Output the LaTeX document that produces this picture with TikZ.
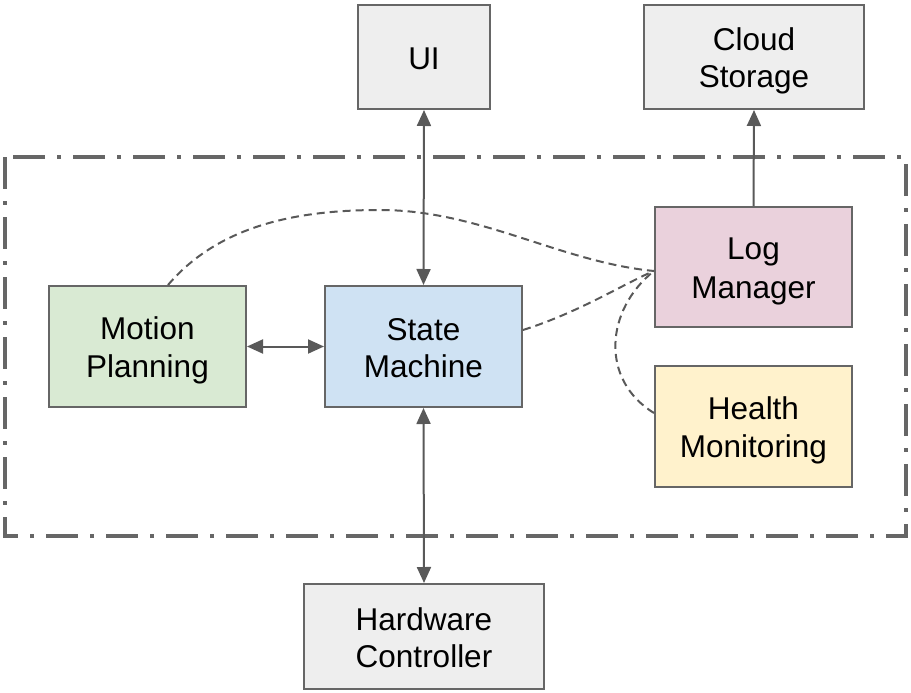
\documentclass[tikz,border=0pt]{standalone}
\usepackage{fontspec}
\setmainfont{Liberation Sans}
\usetikzlibrary{arrows.meta,calc}
\definecolor{bordc}{HTML}{666666}
\definecolor{linec}{HTML}{595959}
\definecolor{grayf}{HTML}{EEEEEE}
\definecolor{greenf}{HTML}{D9EAD3}
\definecolor{bluef}{HTML}{CFE2F3}
\definecolor{pinkf}{HTML}{EAD1DC}
\definecolor{yellowf}{HTML}{FFF2CC}
\newcommand{\bxs}{\rule[-6.5pt]{0pt}{37.5pt}}
\tikzset{
  box/.style={draw=bordc, line width=2pt, align=center, inner sep=0pt,
    font=\fontsize{31.5}{37.5}\selectfont},
  conn/.style={draw=linec, line width=2pt, -{Triangle[length=16pt,width=14pt]}},
  bconn/.style={draw=linec, line width=2pt, {Triangle[length=16pt,width=14pt]}-{Triangle[length=16pt,width=14pt]}},
  dconn/.style={draw=linec, line width=2pt, dash pattern=on 8pt off 5pt},
  frame/.style={draw=bordc, line width=4pt, dash pattern=on 32pt off 12pt on 4pt off 12pt}
}
\begin{document}
\begin{tikzpicture}[x=1pt,y=-1pt]
\useasboundingbox (0,0) rectangle (911,693);
\draw[frame] (5,157) rectangle (906,536);
\node[box, fill=grayf, minimum width=132pt, minimum height=104pt] (ui) at (424,57) {UI\bxs};
\node[box, fill=grayf, minimum width=220pt, minimum height=104pt] (cloud) at (754,57) {Cloud\bxs\\Storage\bxs};
\node[box, fill=pinkf, minimum width=197pt, minimum height=120pt] (log) at (753.5,267) {Log\bxs\\Manager\bxs};
\node[box, fill=greenf, minimum width=197pt, minimum height=121pt] (motion) at (147.5,346.5) {Motion\bxs\\Planning\bxs};
\node[box, fill=bluef, minimum width=197pt, minimum height=121pt] (state) at (423.5,346.5) {State\bxs\\Machine\bxs};
\node[box, fill=yellowf, minimum width=197pt, minimum height=121pt] (health) at (753.5,426.5) {Health\bxs\\Monitoring\bxs};
\node[box, fill=grayf, minimum width=240pt, minimum height=105pt] (hw) at (424,636.5) {Hardware\bxs\\Controller\bxs};
\coordinate (lend) at ([yshift=-4pt]log.west);
\draw[bconn] (ui.south) -- (state.north);
\draw[bconn] (state.south) -- (hw.north);
\draw[bconn] (motion.east) -- (state.west);
\draw[conn] (log.north) -- (cloud.south);
\draw[dconn] ($(motion.north)+(20.5,0)$) .. controls +(52,-61) and (300,210) .. (380,210)
  .. controls (480,210) and (560,262) .. (lend);
\draw[dconn] ([yshift=16.5pt]state.east) .. controls (580,312) and (625,283) .. (lend);
\draw[dconn] ([yshift=13.5pt]health.west) .. controls (600,380) and (605,310) .. (lend);
\end{tikzpicture}
\end{document}
